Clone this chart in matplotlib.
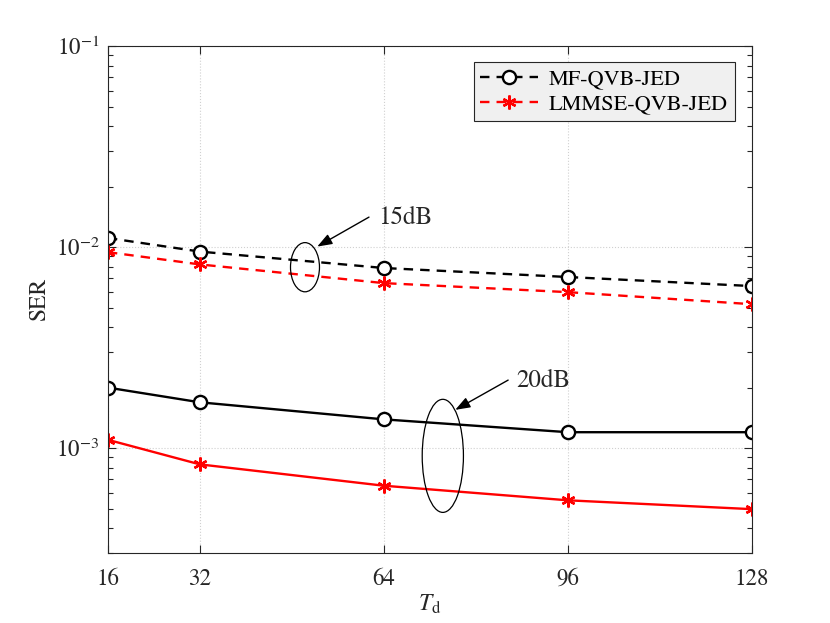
import numpy as np
import matplotlib
matplotlib.use("Agg")
import matplotlib.pyplot as plt
from matplotlib.patches import Ellipse

plt.rcParams['font.family'] = ['STIXGeneral', 'DejaVu Serif']
plt.rcParams['mathtext.fontset'] = 'stix'

# block length T_d
td = [16, 32, 64, 96, 128]

# SER values
mf_15 = [0.0111, 0.0095, 0.00787, 0.0071, 0.0064]
lmmse_15 = [0.00944, 0.0082, 0.00662, 0.00597, 0.0052]
mf_20 = [0.0020, 0.00169, 0.00139, 0.00120, 0.00120]
lmmse_20 = [0.00110, 0.00083, 0.00065, 0.00055, 0.000497]

labels = ['MF-QVB-JED', 'LMMSE-QVB-JED']
dark = '#262626'

fig = plt.figure(figsize=(8.3, 6.23), dpi=100)
ax = fig.add_axes([0.130, 0.112, 0.776, 0.814])

ast = (6, 2, 0)
ax.plot(td, mf_15, '--', color='black', lw=1.7, marker='o', ms=9.5,
        mfc='white', mec='black', mew=1.7, dashes=(4, 3), label=labels[0])
ax.plot(td, lmmse_15, '--', color='red', lw=1.7, marker=ast, ms=10,
        mec='red', mew=1.7, dashes=(4, 3), label=labels[1])
ax.plot(td, mf_20, '-', color='black', lw=1.7, marker='o', ms=9.5,
        mfc='white', mec='black', mew=1.7)
ax.plot(td, lmmse_20, '-', color='red', lw=1.7, marker=ast, ms=10,
        mec='red', mew=1.7)

ax.set_yscale('log')
ax.set_xlim(16, 128)
ax.set_ylim(3e-4, 1e-1)
ax.set_xticks(td)
ax.set_xticklabels([str(t) for t in td])
ax.set_yticks([1e-3, 1e-2, 1e-1])
ax.set_yticklabels([r'$10^{-3}$', r'$10^{-2}$', r'$10^{-1}$'])

ax.grid(True, which='major', linestyle=':', color='#d0d0d0', lw=0.8)
ax.tick_params(which='both', direction='in', top=True, right=True,
               colors=dark, labelsize=16.5)
ax.tick_params(axis='y', pad=6)
ax.tick_params(axis='x', pad=11)
ax.tick_params(which='major', length=6, width=0.8)
ax.tick_params(which='minor', length=3.5, width=0.8)
ax.tick_params(axis='x', which='minor', bottom=False, top=False)
for s in ax.spines.values():
    s.set_color(dark)
    s.set_linewidth(0.8)

ax.set_ylabel('SER', fontsize=17, color=dark, labelpad=4)
ax.set_xlabel(r'$T_\mathrm{d}$', fontsize=17, color=dark, labelpad=2)

# group ellipses (axes coords)
ax.add_patch(Ellipse((0.306, 0.564), 0.045, 0.097, transform=ax.transAxes,
                     fill=False, ec='black', lw=0.9, zorder=5))
ax.add_patch(Ellipse((0.520, 0.192), 0.064, 0.223, transform=ax.transAxes,
                     fill=False, ec='black', lw=0.9, zorder=5))

arrow = dict(arrowstyle='-|>,head_length=0.6,head_width=0.22',
             color='black', lw=1.0, mutation_scale=15, shrinkA=0, shrinkB=0)
ax.annotate('', xy=(52.4, 0.01006), xytext=(61.4, 0.0141), arrowprops=arrow)
ax.text(63.0, 0.0139, '15dB', fontsize=18, ha='left', va='center', color=dark)
ax.annotate('', xy=(76.4, 0.00155), xytext=(85.6, 0.00218), arrowprops=arrow)
ax.text(87.0, 0.00215, '20dB', fontsize=18, ha='left', va='center', color=dark)

leg = ax.legend(loc='upper right', bbox_to_anchor=(0.9736, 0.9684),
                borderaxespad=0, fontsize=16, handlelength=2.6,
                fancybox=False, framealpha=1, edgecolor=dark,
                facecolor='#f0f0f0', borderpad=0.3, labelspacing=0.2,
                handletextpad=0.5)
leg.get_frame().set_linewidth(0.8)

fig.savefig('out.png', dpi=100)
